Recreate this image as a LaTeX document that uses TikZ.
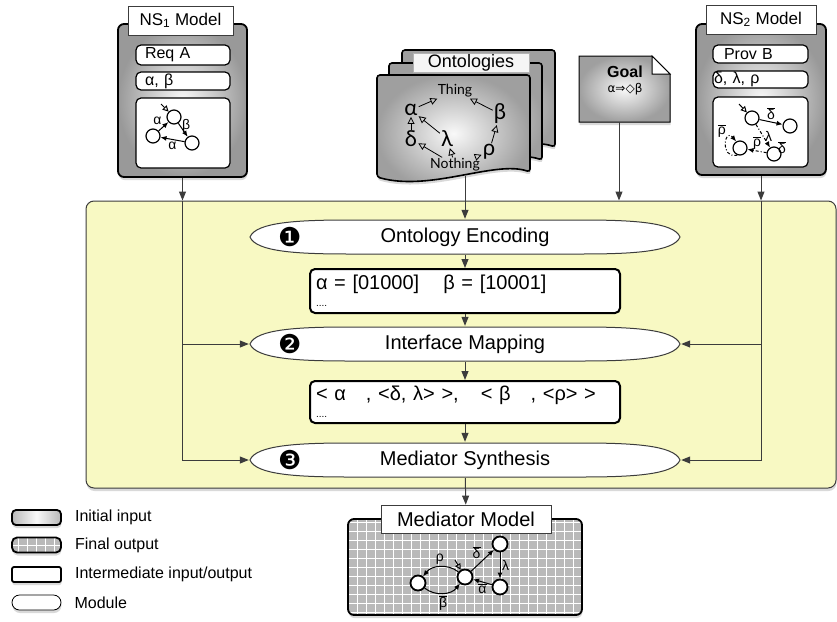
\documentclass[tikz,border=0pt]{standalone}
\usepackage{fontspec}
\setmainfont{Liberation Sans}
\newfontfamily\symfont{DejaVu Sans}
\newfontfamily\ontofont{Lato}
\usetikzlibrary{arrows.meta,shadows}

\newcommand{\fsz}[1]{\fontsize{#1}{#1}\selectfont}
\newcommand{\barred}[1]{$\overline{\mbox{#1}}$}

\definecolor{coreyellow}{HTML}{F8F9C3}
\definecolor{linegray}{HTML}{3C3C3C}

\tikzset{
    arr/.style={draw=linegray, line width=1pt, -{Triangle[length=9pt,width=7pt]}},
    softshadow/.style={drop shadow={shadow xshift=0.5pt, shadow yshift=-3pt, opacity=0.3}},
    corebox/.style={draw=linegray, fill=coreyellow, line width=1pt, rounded corners=8pt, softshadow},
    modelbox/.style={draw, line width=1.8pt, rounded corners=6pt, inner color=gray!5, outer color=gray!80, softshadow},
    tagbox/.style={draw=linegray, fill=white, line width=0.8pt, inner sep=0pt, font=\fsz{17}},
    slot/.style={draw, fill=white, line width=1.2pt, rounded corners=5pt, inner sep=0pt, align=left, font=\fsz{16}},
    interbox/.style={draw, fill=white, line width=2pt, rounded corners=5pt, inner sep=0pt, align=left, font=\fsz{20}},
    numtag/.style={font=\symfont\fsz{26}, anchor=center, xshift=41pt, inner sep=0pt},
    module/.style={minimum width=432pt, minimum height=36pt, inner sep=0pt, font=\fsz{20},
        label={[numtag]west:#1},
        path picture={
            \path[draw=linegray, fill=white, line width=1pt]
                ([xshift=1pt]path picture bounding box.west)
                .. controls +(6,-15) and +(-50,0) .. ([xshift=100pt,yshift=-1pt]path picture bounding box.north west)
                -- ([xshift=-100pt,yshift=-1pt]path picture bounding box.north east)
                .. controls +(50,0) and +(-6,-15) .. ([xshift=-1pt]path picture bounding box.east)
                .. controls +(-6,15) and +(50,0) .. ([xshift=-100pt,yshift=1pt]path picture bounding box.south east)
                -- ([xshift=100pt,yshift=1pt]path picture bounding box.south west)
                .. controls +(-50,0) and +(6,15) .. ([xshift=1pt]path picture bounding box.west) -- cycle;
        }},
    gridfill/.style={fill=gray!55, path picture={
        \draw[white, line width=0.8pt, step=9pt] (path picture bounding box.south west) grid (path picture bounding box.north east);}},
    state/.style={circle, draw, fill=white, line width=1.2pt, minimum size=14pt, inner sep=0pt},
    mstate/.style={state, line width=1.8pt, minimum size=15pt},
    tr/.style={-{Latex[length=6pt,width=5pt]}, line width=1pt},
    init/.style={-{Triangle[open,length=6pt,width=6pt]}, line width=1pt},
    glabel/.style={font=\fsz{14}, inner sep=1.5pt},
    sheet/.style={draw, line width=1.6pt, rounded corners=3pt, inner color=gray!5, outer color=gray!75, softshadow},
    onto/.style={font=\ontofont\fsz{22}, inner sep=1pt},
    onarr/.style={-{Triangle[open,length=7pt,width=7pt]}, line width=0.8pt},
    legbox/.style={draw, line width=1.8pt, minimum width=49pt, minimum height=15pt, inner sep=0pt, softshadow},
    legtext/.style={font=\fsz{16}, inner sep=0pt, xshift=13pt},
}

\begin{document}
\begin{tikzpicture}[x=1pt, y=-1pt]
    \useasboundingbox (0,0) rectangle (837,621);

    \node[corebox, minimum width=750pt, minimum height=287pt] (core) at (461,344.5) {};

    \node[module=❶] (enc) at (465,237) {Ontology Encoding};
    \node[interbox, minimum width=310pt, minimum height=44pt, text width=298pt] (codes) at (465,291)
        {α = [01000]\hspace{24pt}β = [10001]\\[-3pt]{\fsz{10}....}};
    \node[module=❷] (map) at (465,344) {Interface Mapping};
    \node[interbox, minimum width=310pt, minimum height=42pt, text width=298pt] (pairs) at (465,402)
        {< α\hspace{20pt}, <δ, λ> >,\hspace{22pt}< β\hspace{20pt}, <ρ> >\\[-3pt]{\fsz{10}....}};
    \node[module=❸] (syn) at (465,460) {Mediator Synthesis};

    \path[draw,arr] (enc) -- (codes);
    \path[draw,arr] (codes) -- (map);
    \path[draw,arr] (map) -- (pairs);
    \path[draw,arr] (pairs) -- (syn);

    % NS1
    \node[modelbox, minimum width=129pt, minimum height=153pt] (ns1) at (182.5,100.5) {};
    \node[tagbox, minimum width=105pt, minimum height=29pt] (ns1tag) at (180.5,20.5) {NS\textsubscript{1} Model};
    \node[slot, minimum width=94pt, minimum height=20pt, text width=76pt] (reqa) at (183,55) {Req A};
    \node[slot, minimum width=94pt, minimum height=18pt, text width=76pt] (ns1sig) at (183,81) {α, β};
    \node[slot, minimum width=94pt, minimum height=70pt] (ns1lts) at (183,133) {};
    \node[state] (s1) at (174,117) {};
    \node[state] (s2) at (153,136) {};
    \node[state] (s3) at (192,143) {};
    \coordinate (s1in) at (161,104);
    \draw[init] (s1in) -- (s1);
    \draw[tr] (s1) -- node[glabel, right, pos=0.2] {β} (s3);
    \draw[tr] (s3) -- node[glabel, below] {α} (s2);
    \draw[tr] (s2) -- node[glabel, above left] {α} (s1);

    % NS2
    \node[modelbox, minimum width=130pt, minimum height=151pt] (ns2) at (761,99.5) {};
    \node[tagbox, minimum width=110pt, minimum height=29pt] (ns2tag) at (761,19.5) {NS\textsubscript{2} Model};
    \node[slot, minimum width=95pt, minimum height=18pt, text width=73pt] (provb) at (760.5,54) {Prov B};
    \node[slot, minimum width=95pt, minimum height=17pt, text width=93pt] (ns2sig) at (760.5,79.5) {δ, λ, ρ};
    \node[slot, minimum width=95pt, minimum height=70pt] (ns2lts) at (760.5,132) {};
    \node[state] (t1) at (752,118) {};
    \node[state] (t2) at (790,126) {};
    \node[state] (t3) at (740,148) {};
    \node[state] (t4) at (774,154) {};
    \coordinate (t1in) at (739,104);
    \draw[init] (t1in) -- (t1);
    \draw[tr] (t1) -- node[glabel, above] {\barred{δ}} (t2);
    \draw[tr, dash dot] (t1) -- node[glabel, right] {λ} node[glabel, pos=1, right=6pt] {\barred{δ}} (t4);
    \draw[tr, dash dot] (t3.250) .. controls +(-18,4) and +(-12,-14) .. node[glabel, above left, pos=0.7] {\barred{ρ}} (t3.120);
    \draw[tr, dash dot] (t4) -- node[glabel, above] {\barred{ρ}} (t3);

    % Goal
    \path[sheet, line width=1pt, rounded corners=0pt] (579,56) -- (652,56) -- (670,74) -- (670,122) -- (579,122) -- cycle;
    \path[draw, fill=white, line width=1pt] (652,56) -- (652,74) -- (670,74) -- cycle;
    \node[align=center, inner sep=0pt, font=\fsz{15}] (goal) at (625,80)
        {{\bfseries\fsz{16}Goal}\\{\symfont\fsz{12}α⇒◇β}};
    \coordinate (goalout) at (619,122);

    % Ontologies
    \path[sheet, shift={(25,-25)}] (377,75) -- (530,75) -- (530,172) .. controls (495,160) and (430,192) .. (377,177) -- cycle;
    \path[sheet, shift={(12,-12)}] (377,75) -- (530,75) -- (530,172) .. controls (495,160) and (430,192) .. (377,177) -- cycle;
    \path[sheet] (377,75) -- (530,75) -- (530,172) .. controls (495,160) and (430,192) .. (377,177) -- cycle;
    \node[tagbox, fill=gray!8, draw=gray!60, font=\fsz{18}, minimum width=116pt, minimum height=19pt] (ontotag) at (471,63) {Ontologies};
    \node[onto, font=\ontofont\fsz{14}] (thing) at (455,91) {Thing};
    \node[onto] (al) at (411,110) {α};
    \node[onto] (be) at (500,114) {β};
    \node[onto] (de) at (411,139) {δ};
    \node[onto] (la) at (447,139) {λ};
    \node[onto] (ro) at (489,152) {ρ};
    \node[onto, font=\ontofont\fsz{14}] (nothing) at (455,165) {Nothing};
    \draw[onarr] (al) -- (thing);
    \draw[onarr] (be) -- (thing);
    \draw[onarr] (de) -- (al);
    \draw[onarr] (la) -- (al);
    \draw[onarr] (ro) -- (be);
    \draw[onarr] (nothing) -- (de);
    \draw[onarr] (nothing) -- (la);
    \draw[onarr] (nothing) -- (ro);
    \coordinate (ontoout) at (465,176);

    % inputs into the core
    \coordinate (ltop) at (ns1.south |- core.north);
    \coordinate (rtop) at (ns2.south |- core.north);
    \coordinate (gtop) at (goalout |- core.north);
    \path[draw,arr] (ns1) -- (ltop);
    \path[draw,arr] (ltop) |- (map.west);
    \path[draw,arr] (ltop) |- (syn.west);
    \path[draw,arr] (ns2) -- (rtop);
    \path[draw,arr] (rtop) |- (map.east);
    \path[draw,arr] (rtop) |- (syn.east);
    \path[draw,arr] (goalout) -- (gtop);
    \path[draw,arr] (ontoout) -- (enc);

    % Mediator
    \node[draw, gridfill, line width=1.8pt, rounded corners=6pt, softshadow, minimum width=234pt, minimum height=96pt] (med) at (465,567) {};
    \node[tagbox, font=\fsz{20}, minimum width=170pt, minimum height=28pt] (medlbl) at (466,519) {Mediator Model};
    \path[draw,arr] (syn) -- (medlbl);
    \node[mstate] (m1) at (418,583) {};
    \node[mstate] (m2) at (465,577) {};
    \node[mstate] (m3) at (500,544) {};
    \node[mstate] (m4) at (500,587) {};
    \coordinate (m2in) at (455,560);
    \draw[init] (m2in) -- (m2);
    \draw[tr] (m1) to[bend right=45] node[glabel, below] {\barred{β}} (m2);
    \draw[tr] (m2) to[bend right=45] node[glabel, above] {ρ} (m1);
    \draw[tr] (m2) -- node[glabel, above left] {\barred{δ}} (m3);
    \draw[tr] (m3) -- node[glabel, right] {λ} (m4);
    \draw[tr] (m4) -- node[glabel, below] {\barred{α}} (m2);

    % legend
    \node[legbox, left color=gray!55, right color=gray!55, middle color=gray!5, rounded corners=4pt,
        label={[legtext]right:Initial input}] (legin) at (36.5,517.5) {};
    \node[legbox, gridfill, rounded corners=5pt,
        label={[legtext]right:Final output}] (legout) at (36.5,545) {};
    \node[legbox, fill=white, rounded corners=2pt,
        label={[legtext]right:Intermediate input/output}] (legmid) at (36.5,574.5) {};
    \node[legbox, fill=white, line width=0.8pt, rounded corners=7.5pt,
        label={[legtext]right:Module}] (legmod) at (36.5,602.5) {};
\end{tikzpicture}
\end{document}
